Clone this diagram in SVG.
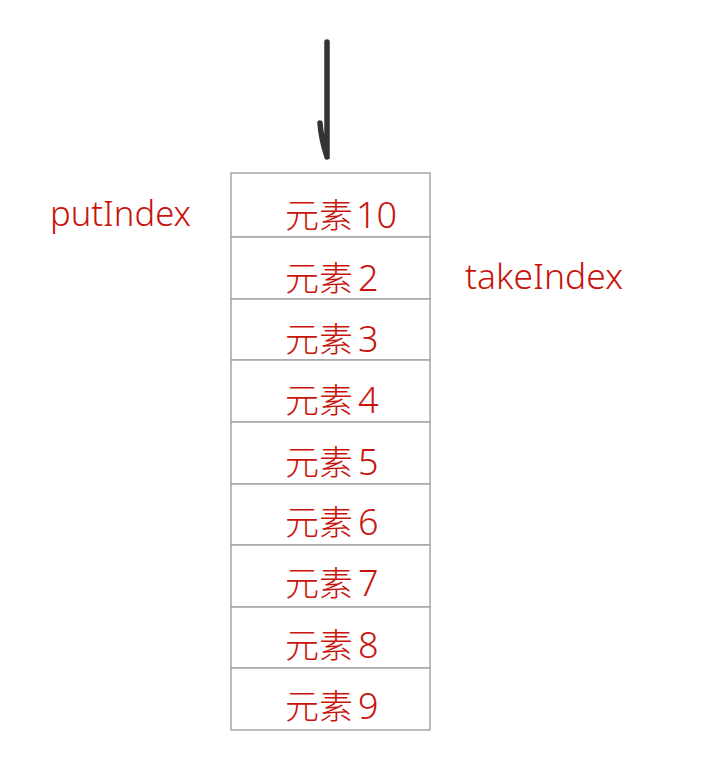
<svg xmlns="http://www.w3.org/2000/svg" width="712" height="778" viewBox="0 0 712 778">
<style>
.cell{fill:#fff;stroke:#a6a6a6;stroke-width:1.5}
.t{font-family:"Noto Sans CJK SC","Noto Sans",sans-serif;font-size:34px;font-weight:300;fill:#c8140c}
.d{font-family:"Noto Sans","Liberation Sans",sans-serif;font-size:36px;font-weight:300}
.l{font-family:"Noto Sans","Liberation Sans",sans-serif;font-size:35px;font-weight:300;fill:#c8140c}
.arrow{fill:none;stroke:#333;stroke-width:5.5;stroke-linecap:round;stroke-linejoin:round}
</style>
<rect width="712" height="778" fill="#fff"/>
<g id="queue">
<rect class="cell" x="231" y="173" width="199" height="64"/>
<rect class="cell" x="231" y="237" width="199" height="62"/>
<rect class="cell" x="231" y="299" width="199" height="61"/>
<rect class="cell" x="231" y="360" width="199" height="62"/>
<rect class="cell" x="231" y="422" width="199" height="62"/>
<rect class="cell" x="231" y="484" width="199" height="61"/>
<rect class="cell" x="231" y="545" width="199" height="62"/>
<rect class="cell" x="231" y="607" width="199" height="61"/>
<rect class="cell" x="231" y="668" width="199" height="62"/>
<text class="t" x="285" y="228">元素<tspan class="d" dx="3">10</tspan></text>
<text class="t" x="285" y="291">元素<tspan class="d" dx="5">2</tspan></text>
<text class="t" x="285" y="352">元素<tspan class="d" dx="5">3</tspan></text>
<text class="t" x="285" y="413">元素<tspan class="d" dx="5">4</tspan></text>
<text class="t" x="285" y="475">元素<tspan class="d" dx="5">5</tspan></text>
<text class="t" x="285" y="535">元素<tspan class="d" dx="5">6</tspan></text>
<text class="t" x="285" y="596">元素<tspan class="d" dx="5">7</tspan></text>
<text class="t" x="285" y="658">元素<tspan class="d" dx="5">8</tspan></text>
<text class="t" x="285" y="719">元素<tspan class="d" dx="5">9</tspan></text>
</g>
<g id="labels">
<text class="l" x="50" y="226" textLength="141" lengthAdjust="spacingAndGlyphs">putIndex</text>
<text class="l" x="465" y="289" textLength="158" lengthAdjust="spacingAndGlyphs">takeIndex</text>
</g>
<g id="connectors">
<path class="arrow" d="M327,42 L327,157 M320,123 Q321,138 327,157"/>
</g>
</svg>
